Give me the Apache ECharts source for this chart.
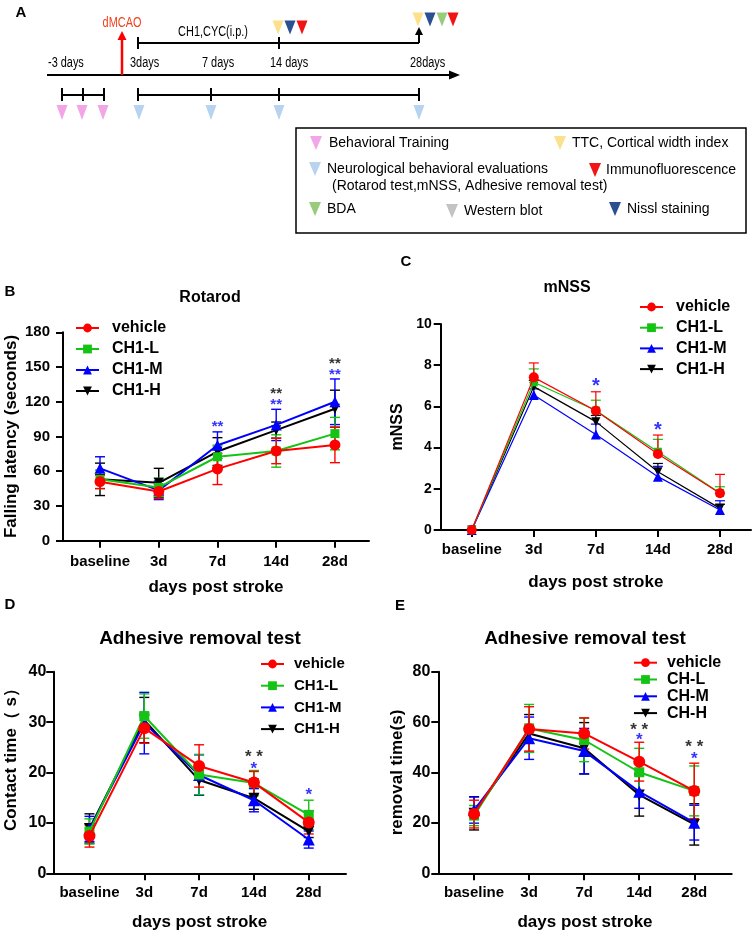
<!DOCTYPE html>
<html>
<head>
<meta charset="utf-8">
<script src="https://cdn.jsdelivr.net/npm/echarts@6/dist/echarts.min.js"></script>
<style>
  html, body { margin: 0; padding: 0; background: #fff; }
  #main { width: 753px; height: 934px; }
</style>
</head>
<body>
<div id="main"></div>
<script>
// ---- data ----
const days = ['baseline', '3d', '7d', '14d', '28d'];
const groupNames = ['vehicle', 'CH1-L', 'CH1-M', 'CH1-H'];
const groupNamesE = ['vehicle', 'CH-L', 'CH-M', 'CH-H'];

// B: rotarod, seconds (mean, sd)
const rotarodMean = [
  [51, 42.5, 62, 77.5, 82.7],
  [53, 46, 72.5, 77.5, 92.5],
  [62.5, 43.5, 82.5, 100, 120],
  [53, 50, 77, 95.5, 114]
];
const rotarodSd = [
  [6, 6, 13.5, 11, 15.3],
  [8, 8, 10, 14, 14],
  [10, 8, 11.5, 13.5, 19.7],
  [14, 12.5, 12, 7, 16]
];
const rotarodStars = [[2, 101, '**', '#0000ff'], [3, 120, '**', '#0000ff'], [3, 129.5, '**', '#000'], [4, 146, '**', '#0000ff'], [4, 155.5, '**', '#000']];

// C: mNSS score (mean, upper sd)
const mnssMean = [
  [0, 7.41, 5.79, 3.69, 1.78],
  [0, 7.17, 5.8, 3.8, 1.8],
  [0, 6.55, 4.64, 2.59, 0.97],
  [0, 6.96, 5.26, 2.83, 1.05]
];
const mnssSd = [
  [0, 0.7, 0.92, 0.92, 0.92],
  [0, 0.65, 0.5, 0.6, 0.3],
  [0, 0.3, 0.5, 0.5, 0.45],
  [0, 0.3, 0.3, 0.4, 0.2]
];
const mnssStars = [[2, 7.2, '*', '#0000ff'], [3, 5.05, '*', '#0000ff']];

// D: contact time, s
const contactMean = [
  [7.4, 28.8, 21.3, 18, 10.1],
  [8.3, 31.2, 19.6, 17.9, 11.6],
  [8.8, 29.8, 19.5, 14.5, 6.7],
  [8.9, 30.4, 18.5, 14.9, 8.3]
];
const contactSd = [
  [2.2, 3, 4.2, 2.2, 2.3],
  [2.5, 4.4, 4, 2.5, 2.9],
  [2.5, 6.1, 4, 2.3, 1.7],
  [2.9, 4.5, 3, 2.2, 1.2]
];
const contactStars = [[3, 23.8, '* *', '#000'], [3, 21.5, '*', '#0000ff'], [4, 16.2, '*', '#0000ff']];

// E: removal time, s
const removalMean = [
  [23.5, 57.3, 55.5, 44.3, 32.7],
  [22.9, 57.5, 52.9, 40.1, 32.7],
  [25.1, 53.6, 48.5, 32.4, 20.1],
  [23.8, 55.5, 49.6, 31.1, 19.4]
];
const removalSd = [
  [5.5, 8.8, 6.2, 7.7, 11],
  [4, 9.5, 8.6, 9.5, 9.9],
  [5.2, 8.4, 9, 6.6, 6.9],
  [6.6, 7.5, 10.2, 8.4, 8.2]
];
const removalStars = [[3, 58.5, '* *', '#000'], [3, 54.2, '*', '#0000ff'], [4, 51.6, '* *', '#000'], [4, 46.9, '*', '#0000ff']];

// A: schematic
const timelineLabels = ['-3 days', '3days', '7 days', '14 days', '28days'];
const schemeLegend = [
  ['Behavioral Training', '#f2a6e8'],
  ['TTC, Cortical width index', '#fce08c'],
  ['Neurological behavioral evaluations', '#b8d3ef'],
  ['Immunofluorescence', '#f01414'],
  ['BDA', '#98cb7c'],
  ['Western blot', '#c3c3c3'],
  ['Nissl staining', '#2a4f92']
];

// ---- style ----
const FONT = '"Liberation Sans", Arial, sans-serif';
const colors = ['#ff0000', '#14c314', '#0000ff', '#000000'];
const symbols = ['circle', 'rect', 'triangle', 'path://M0,0L10,0L5,9Z'];

const panels = [
  {
    key: 'B', mean: rotarodMean, sd: rotarodSd, stars: rotarodStars, names: groupNames,
    grid: { left: 63, top: 332.3, width: 306, height: 208.4 }, xMin: -0.63, xMax: 4.58,
    yMax: 180, yStep: 30, yName: 'Falling latency (seconds)', yNameGap: 43, yNameSize: 17,
    yLabelSize: 15, yLabelMargin: 13, xNameGap: 38, xLabelMargin: 14,
    lineW: 2, barW: 1.4, cap: 5, symSize: [11, 9, 11, 10], oneSided: false, starSize: 15,
    legend: { left: 75, top: 320, gap: 5, size: 16, pad: 8 }
  },
  {
    key: 'C', mean: mnssMean, sd: mnssSd, stars: mnssStars, names: groupNames,
    grid: { left: 440.7, top: 324, width: 310.3, height: 206 }, xMin: -0.5, xMax: 4.5,
    yMax: 10, yStep: 2, yName: 'mNSS', yNameGap: 35, yNameSize: 16,
    yLabelSize: 14, yLabelMargin: 9, xNameGap: 44, xLabelMargin: 12,
    lineW: 1.2, barW: 1.2, cap: 5, symSize: [10, 8, 10, 9], oneSided: true, starSize: 20,
    legend: { left: 639, top: 299, gap: 4.7, size: 16, pad: 8 }
  },
  {
    key: 'D', mean: contactMean, sd: contactSd, stars: contactStars, names: groupNames,
    grid: { left: 53.3, top: 671.7, width: 292.7, height: 201.6 }, xMin: -0.66, xMax: 4.68,
    yMax: 40, yStep: 10, yName: 'Contact time（ s）', yNameGap: 33, yNameSize: 17, yNameShift: 34,
    yLabelSize: 16, yLabelMargin: 7, xNameGap: 41, xLabelMargin: 12,
    lineW: 2, barW: 1.4, cap: 5, symSize: [12, 10, 12, 11], oneSided: false, starSize: 17,
    legend: { left: 260, top: 656.5, gap: 6.7, size: 15, pad: 5 }
  },
  {
    key: 'E', mean: removalMean, sd: removalSd, stars: removalStars, names: groupNamesE,
    grid: { left: 438.3, top: 671.7, width: 293.4, height: 201.6 }, xMin: -0.65, xMax: 4.68,
    yMax: 80, yStep: 20, yName: 'removal time(s)', yNameGap: 32, yNameSize: 17,
    yLabelSize: 16, yLabelMargin: 8, xNameGap: 41, xLabelMargin: 12,
    lineW: 2, barW: 1.4, cap: 5, symSize: [12, 10, 12, 11], oneSided: false, starSize: 17,
    legend: { left: 633, top: 654.7, gap: 0.8, size: 16, pad: 5 }
  }
];

const panelTitles = [
  ['Rotarod', 210, 298, 16], ['mNSS', 567, 288, 16],
  ['Adhesive removal test', 200, 639, 19], ['Adhesive removal test', 585, 639, 19]
];
const panelLetters = [['A', 21, 13], ['B', 10, 292], ['C', 406, 262], ['D', 10, 605], ['E', 400, 606]];

// ---- error bars ----
function errorBar(oneSided, cap, color, lw) {
  return function (params, api) {
    const x = api.value(0), y = api.value(1), e = api.value(2);
    if (!e) return null;
    const top = api.coord([x, y + e]);
    const bot = api.coord([x, oneSided ? y : y - e]);
    const st = { stroke: color, lineWidth: lw };
    const children = [
      { type: 'line', shape: { x1: top[0], y1: top[1], x2: bot[0], y2: bot[1] }, style: st },
      { type: 'line', shape: { x1: top[0] - cap, y1: top[1], x2: top[0] + cap, y2: top[1] }, style: st }
    ];
    if (!oneSided) {
      children.push({ type: 'line', shape: { x1: bot[0] - cap, y1: bot[1], x2: bot[0] + cap, y2: bot[1] }, style: st });
    }
    return { type: 'group', children };
  };
}

const grids = [], xAxes = [], yAxes = [], series = [], legends = [];
const axisLine = { show: true, onZero: false, lineStyle: { color: '#000', width: 2 } };

panels.forEach((p, i) => {
  grids.push(Object.assign({ outerBoundsMode: 'none' }, p.grid));
  xAxes.push({
    type: 'value', gridIndex: i, min: p.xMin, max: p.xMax,
    axisLine: axisLine,
    axisTick: { show: true, length: 7, lineStyle: { width: 2, color: '#000' }, customValues: [0, 1, 2, 3, 4] },
    axisLabel: { customValues: [0, 1, 2, 3, 4], formatter: v => days[Math.round(v)], margin: p.xLabelMargin,
      color: '#000', fontSize: 15, fontWeight: 'bold', fontFamily: FONT },
    splitLine: { show: false },
    name: 'days post stroke', nameLocation: 'middle', nameGap: p.xNameGap,
    nameTextStyle: { color: '#000', fontSize: 17, fontWeight: 'bold', fontFamily: FONT }
  });
  yAxes.push({
    type: 'value', gridIndex: i, min: 0, max: p.yMax, interval: p.yStep,
    axisLine: axisLine,
    axisTick: { show: true, length: 7, lineStyle: { width: 2, color: '#000' } },
    axisLabel: { margin: p.yLabelMargin, color: '#000', fontSize: p.yLabelSize, fontWeight: 'bold', fontFamily: FONT },
    splitLine: { show: false },
    name: p.yName, nameLocation: 'middle', nameGap: p.yNameGap,
    nameTextStyle: { color: '#000', fontSize: p.yNameSize, fontWeight: 'bold', fontFamily: FONT,
      padding: p.yNameShift ? [0, 0, 0, p.yNameShift] : 0 }
  });

  // draw vehicle last so it sits on top
  [3, 2, 1, 0].forEach(g => {
    const sname = p.key + '|' + p.names[g];
    series.push({
      type: 'custom', name: sname + '|err', xAxisIndex: i, yAxisIndex: i, z: 1,
      renderItem: errorBar(p.oneSided, p.cap, colors[g], p.barW),
      encode: { x: 0, y: 1 }, clip: false, silent: true,
      data: p.mean[g].map((v, k) => [k, v, p.sd[g][k]])
    });
    series.push({
      type: 'line', name: sname, xAxisIndex: i, yAxisIndex: i, z: 2 + (3 - g) * 0.1,
      data: p.mean[g].map((v, k) => [k, v]),
      symbol: symbols[g], symbolSize: p.symSize[g], showAllSymbol: true,
      lineStyle: { color: colors[g], width: p.lineW },
      itemStyle: { color: colors[g] },
      animation: false
    });
  });
  series.push({
    type: 'scatter', xAxisIndex: i, yAxisIndex: i, z: 5, symbolSize: 0, silent: true,
    data: p.stars.map(s => ({ value: [s[0], s[1]], name: s[2], label: { color: s[3] } })),
    label: { show: true, position: 'inside', formatter: '{b}', fontSize: p.starSize, fontWeight: 'bold',
      fontFamily: FONT, offset: [0, Math.round(p.starSize * 0.23)] }
  });

  legends.push({
    orient: 'vertical', left: p.legend.left, top: p.legend.top, itemGap: p.legend.gap,
    itemWidth: 23, itemHeight: 11, padding: 0, selectedMode: false,
    data: [0, 1, 2, 3].map(g => p.key + '|' + p.names[g]),
    formatter: n => n.split('|')[1],
    textStyle: { color: '#000', fontSize: p.legend.size, lineHeight: p.legend.size, fontWeight: 'bold',
      fontFamily: FONT, padding: [0, 0, 0, p.legend.pad] }
  });
});

// ---- panel A schematic + texts ----
const G = [];
function gLine(x1, y1, x2, y2, color, w) {
  G.push({ type: 'line', shape: { x1, y1, x2, y2 }, style: { stroke: color, lineWidth: w } });
}
function gTri(cx, top, w, h, color) {
  G.push({ type: 'polygon', shape: { points: [[cx - w / 2, top], [cx + w / 2, top], [cx, top + h]] }, style: { fill: color } });
}
function gText(x, y, text, font, color, align, sx) {
  G.push({ type: 'text', x, y, scaleX: sx || 1,
    style: { text, font, fill: color || '#000', align: align || 'left', verticalAlign: 'middle' } });
}
const TL = '14px ' + FONT;

// main time axis
gLine(47, 75, 452, 75, '#000', 2);
G.push({ type: 'polygon', shape: { points: [[449, 70.5], [460, 75], [449, 79.5]] }, style: { fill: '#000' } });
[48, 130, 202, 270, 410].forEach((x, k) => gText(x, 63, timelineLabels[k], TL, '#000', 'left', 0.78));
// dMCAO arrow
gLine(122, 75, 122, 39, '#ff0000', 2.5);
G.push({ type: 'polygon', shape: { points: [[117.5, 40], [122, 31], [126.5, 40]] }, style: { fill: '#ff0000' } });
gText(122, 23, 'dMCAO', TL, '#f3401c', 'center', 0.78);
// treatment bracket
gLine(138, 43, 419, 43, '#000', 2);
gLine(138, 37, 138, 49, '#000', 2);
gLine(279, 37, 279, 49, '#000', 2);
gLine(419, 43, 419, 34, '#000', 2);
G.push({ type: 'polygon', shape: { points: [[415, 35], [419, 27], [423, 35]] }, style: { fill: '#000' } });
gText(213, 32, 'CH1,CYC(i.p.)', TL, '#000', 'center', 0.78);
[[278, 1], [290, 6], [302, 3]].forEach(t => gTri(t[0], 20.5, 11, 14, schemeLegend[t[1]][1]));
[[418, 1], [430, 6], [442, 4], [453, 3]].forEach(t => gTri(t[0], 12.5, 11, 14, schemeLegend[t[1]][1]));
// evaluation brackets
gLine(62, 95, 104, 95, '#000', 2);
[62, 83, 104].forEach(x => gLine(x, 88, x, 101, '#000', 2));
gLine(138, 95, 419, 95, '#000', 2);
[138, 211, 279, 419].forEach(x => gLine(x, 88, x, 101, '#000', 2));
[62, 82, 103].forEach(x => gTri(x, 105, 11, 15, schemeLegend[0][1]));
[139, 211, 279, 419].forEach(x => gTri(x, 105, 11, 15, schemeLegend[2][1]));

// legend box
G.push({ type: 'rect', shape: { x: 296, y: 128, width: 450, height: 105 }, style: { fill: 'none', stroke: '#000', lineWidth: 1.5 } });
const legPos = [[316, 143, 329], [560, 143, 572], [315, 169, 327], [595, 170, 606], [315, 209, 327], [452, 211, 464], [615, 209, 627]];
schemeLegend.forEach((it, k) => {
  const p = legPos[k];
  gTri(p[0], p[1] - 7, 12, 14, it[1]);
  gText(p[2], p[1], it[0], '14px ' + FONT);
});
gText(332, 186, '(Rotarod test,mNSS, Adhesive removal test)', '14px ' + FONT);

panelTitles.forEach(t => gText(t[1], t[2], t[0], 'bold ' + t[3] + 'px ' + FONT, '#000', 'center'));
panelLetters.forEach(t => gText(t[1], t[2], t[0], 'bold 15px ' + FONT, '#000', 'center'));

const chart = echarts.init(document.getElementById('main'), null, { renderer: 'canvas' });
chart.setOption({
  backgroundColor: '#fff',
  animation: false,
  grid: grids,
  xAxis: xAxes,
  yAxis: yAxes,
  legend: legends,
  series: series,
  graphic: G
});
</script>
</body>
</html>
